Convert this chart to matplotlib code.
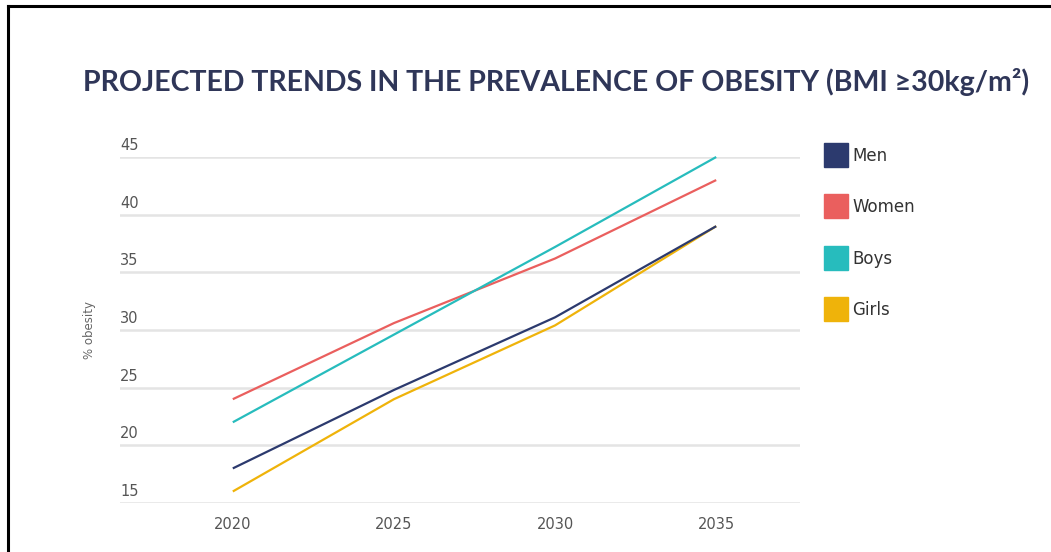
import matplotlib
matplotlib.use("Agg")
import matplotlib.pyplot as plt
from matplotlib.lines import Line2D
from matplotlib.transforms import blended_transform_factory, offset_copy

# date
ani = [2020, 2025, 2030, 2035]
men = [18.0, 24.8, 31.1, 39.0]
women = [24.0, 30.6, 36.2, 43.0]
boys = [22.0, 29.6, 37.2, 45.0]
girls = [16.0, 24.0, 30.4, 39.0]
serii = ["Men", "Women", "Boys", "Girls"]
y_ticks = [15, 20, 25, 30, 35, 40, 45]

culori = {"Men": "#2c3a6e", "Women": "#ea5f5e", "Boys": "#27bcbd", "Girls": "#efb30a"}
valori = {"Men": men, "Women": women, "Boys": boys, "Girls": girls}

titlu = "PROJECTED TRENDS IN THE PREVALENCE OF OBESITY (BMI \u226530kg/m\u00b2)"

fig = plt.figure(figsize=(10.51, 5.52), dpi=100)
ax = fig.add_axes([120 / 1051, 1 - 503 / 552, 680 / 1051, 346 / 552])

# grid
for v in y_ticks:
    ax.axhline(v, color="#e4e4e4", linewidth=1.8, zorder=0)

# linii
ordine = ["Girls", "Men", "Women", "Boys"]
for s in ordine:
    ax.plot(ani, valori[s], color=culori[s], linewidth=1.6, solid_capstyle="butt",
            clip_on=False, zorder=3)

ax.set_xlim(2016.5, 2037.6)
ax.set_ylim(15, 45)
for sp in ax.spines.values():
    sp.set_visible(False)

ax.set_xticks(ani)
ax.set_xticklabels([str(a) for a in ani], fontsize=10.5, color="#555555")
ax.tick_params(axis="x", length=0, pad=10)
ax.set_yticks([])

# etichete y deasupra gridului
tr = offset_copy(blended_transform_factory(ax.transAxes, ax.transData), fig=fig, x=0, y=3, units="points")
for v in y_ticks:
    ax.text(0.0, v, str(v), transform=tr, ha="left", va="bottom", fontsize=10.5, color="#555555")

fig.text(90 / 1051, 1 - 330 / 552, "% obesity", rotation=90, ha="center", va="center",
         fontsize=8.5, color="#666666")

# titlu
fig.text(556 / 1051, 1 - 82 / 552, titlu, ha="center", va="center", fontsize=20.5,
         fontweight="bold", family="Lato", color="#2f3658")

# legenda
handles = [Line2D([], [], marker="s", markersize=17, linestyle="none",
                  markerfacecolor=culori[s], markeredgecolor=culori[s]) for s in serii]
fig.legend(handles, serii, loc="upper left", bbox_to_anchor=(824 / 1051, 1 - 147 / 552),
           frameon=False, fontsize=12, handlelength=1.4, handletextpad=0.3,
           labelspacing=2.0, borderpad=0, borderaxespad=0, labelcolor="#333333")

# chenar
fig.add_artist(Line2D([8 / 1051, 8 / 1051], [0, 1 - 6 / 552], color="black", linewidth=2.2))
fig.add_artist(Line2D([8 / 1051, 1], [1 - 6 / 552, 1 - 6 / 552], color="black", linewidth=2.2))

fig.savefig("out.png", dpi=100)
